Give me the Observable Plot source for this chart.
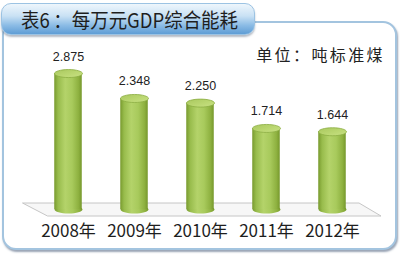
<!DOCTYPE html>
<html><head><meta charset="utf-8">
<script src="https://cdn.jsdelivr.net/npm/d3@7"></script>
<script src="https://cdn.jsdelivr.net/npm/@observablehq/plot@0.6"></script>
<style>
html,body{margin:0;padding:0;background:#fff;}
#wrap{position:relative;width:400px;height:255px;overflow:hidden;font-family:"Noto Sans CJK SC","Noto Sans",sans-serif;}
#frame{position:absolute;left:2px;top:21px;width:391px;height:225px;border:2px solid #a3c4df;border-radius:14px;box-shadow:1px 2px 2px rgba(70,90,120,0.55);background:#fff;}
#chart{position:absolute;left:0;top:0;}
#tab{position:absolute;left:1px;top:3px;width:254px;height:32px;border-radius:10px;
 background:linear-gradient(to bottom,#eef6fc 0%,#c9e1f4 40%,#8dbde6 70%,#5f9dd5 100%);
 box-shadow:0 2px 2px rgba(40,60,90,0.35);border:1px solid #9cc3e3;box-sizing:border-box;
 font-size:20.5px;line-height:31px;padding-left:19px;color:#1e1e1e;white-space:nowrap;}
#tab .inner{display:inline-block;transform:scaleX(0.9);transform-origin:0 50%;}
#tab .colon{display:inline-block;padding-left:4px;}
#unit{position:absolute;right:15px;top:42px;font-size:16px;letter-spacing:2.4px;color:#222;white-space:nowrap;}
</style></head>
<body>
<div id="wrap">
  <div id="frame"></div>
  <div id="chart"></div>
  <div id="tab"><span class="inner"></span></div>
  <div id="unit"></div>
</div>
<script>
const titleParts = ["表6", "：", "每万元GDP综合能耗"];
const unitText = "单位：吨标准煤";
const years = ["2008年", "2009年", "2010年", "2011年", "2012年"];
const values = [2.875, 2.348, 2.250, 1.714, 1.644];
const valueLabels = ["2.875", "2.348", "2.250", "1.714", "1.644"];

const tab = document.querySelector("#tab .inner");
tab.append(titleParts[0]);
const colon = document.createElement("span");
colon.className = "colon";
colon.textContent = titleParts[1];
tab.append(colon);
tab.append(titleParts[2]);
document.getElementById("unit").textContent = unitText;

const data = years.map((year, i) => ({year, value: values[i], label: valueLabels[i]}));

const RX = 14, RY = 4;
const ellipse = {
  draw(ctx) {
    const k = 0.5523;
    ctx.moveTo(RX, 0);
    ctx.bezierCurveTo(RX, RY * k, RX * k, RY, 0, RY);
    ctx.bezierCurveTo(-RX * k, RY, -RX, RY * k, -RX, 0);
    ctx.bezierCurveTo(-RX, -RY * k, -RX * k, -RY, 0, -RY);
    ctx.bezierCurveTo(RX * k, -RY, RX, -RY * k, RX, 0);
    ctx.closePath();
  }
};

function floor(index, scales, values, dims) {
  const y0 = scales.y(0);
  const [xa, xb] = scales.x.range();
  const pts = [[xa - 11, y0 - 6], [xb - 8, y0 - 6], [xb + 14, y0 + 7], [xa + 14, y0 + 7]];
  const g = d3.create("svg:g");
  g.append("path").attr("d", "M" + pts.join("L") + "Z")
    .attr("fill", "#f7f7f7").attr("stroke", "#c6c6c6").attr("stroke-width", 1);
  return g.node();
}

const step = 66.5;
const inset = (step - 2 * RX) / 2;

const svg = Plot.plot({
  width: 400,
  height: 255,
  marginLeft: 33.5,
  marginRight: 33,
  marginTop: 43.5,
  marginBottom: 46,
  style: {background: "transparent", fontFamily: "'Noto Sans CJK SC','Noto Sans',sans-serif", overflow: "visible"},
  x: {domain: years, padding: 0},
  y: {domain: [0, 3.5], axis: null},
  marks: [
    floor,
    Plot.dot(data, {x: "year", y: 0, symbol: ellipse, fill: "url(#cylBody)", stroke: "none"}),
    Plot.barY(data, {x: "year", y: "value", fill: "url(#cylBody)", insetLeft: inset, insetRight: inset}),
    Plot.dot(data, {x: "year", y: "value", symbol: ellipse, fill: "url(#cylTop)", stroke: "#8cad42", strokeWidth: 0.8}),
    Plot.text(data, {x: "year", y: "value", text: "label", dy: -17, fontSize: 12.5, fill: "#222",
      fontFamily: "'Liberation Sans','Noto Sans',sans-serif"}),
    Plot.axisX({tickSize: 0, tickPadding: 15, fontSize: 17, color: "#1e1e1e", label: null})
  ]
});

d3.select(svg).insert("defs", ":first-child").html(`
  <linearGradient id="cylBody" x1="0" x2="1" y1="0" y2="0">
    <stop offset="0" stop-color="#789a2e"/>
    <stop offset="0.14" stop-color="#98bc4c"/>
    <stop offset="0.4" stop-color="#b4d36a"/>
    <stop offset="0.65" stop-color="#a8ca5c"/>
    <stop offset="0.88" stop-color="#8eb140"/>
    <stop offset="1" stop-color="#76982c"/>
  </linearGradient>
  <linearGradient id="cylTop" x1="0" x2="1" y1="0" y2="1">
    <stop offset="0" stop-color="#a9c85e"/>
    <stop offset="0.6" stop-color="#bcd873"/>
    <stop offset="1" stop-color="#c8e085"/>
  </linearGradient>`);

document.getElementById("chart").appendChild(svg);
</script>
</body></html>
